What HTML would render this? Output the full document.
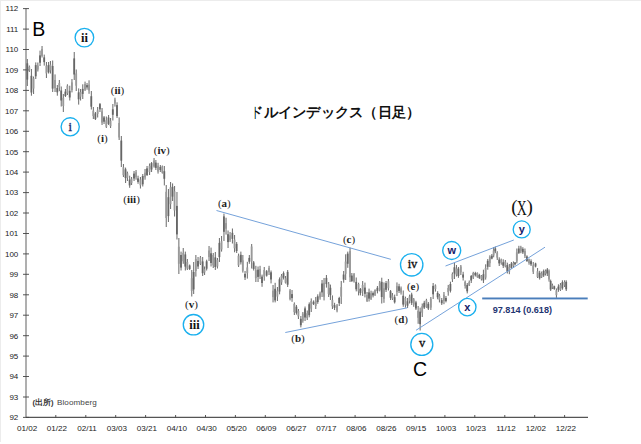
<!DOCTYPE html>
<html><head><meta charset="utf-8"><style>
html,body{margin:0;padding:0;background:#fff;}
body{width:641px;height:444px;overflow:hidden;position:relative;}
svg{position:absolute;left:0;top:0;}
.yl{font-family:"Liberation Sans",sans-serif;font-size:8px;fill:#222;text-anchor:end;}
.xl{font-family:"Liberation Sans",sans-serif;font-size:8.1px;fill:#222;text-anchor:middle;}
.cser{font-family:"Liberation Serif",serif;font-size:12.5px;}
.csans{font-family:"Liberation Sans",sans-serif;font-size:11px;font-weight:bold;}
.wl{font-family:"Liberation Serif",serif;font-size:11px;font-weight:bold;fill:#222;}
.pr{font-weight:normal;}
.big{font-family:"Liberation Sans",sans-serif;font-size:19.5px;fill:#000;}
.bigX{font-family:"Liberation Serif",serif;font-size:20.4px;fill:#111;}
.bigP{font-family:"Liberation Serif",serif;font-size:19px;fill:#111;}
.fib{font-family:"Liberation Sans",sans-serif;font-size:9.5px;font-weight:bold;fill:#1f3572;}
.title{font-family:"Liberation Serif",serif;font-size:14px;font-weight:bold;fill:#111;}
.src{font-family:"Liberation Sans",sans-serif;font-size:8.1px;fill:#444;}
</style></head><body>
<svg width="641" height="444" viewBox="0 0 641 444">
<rect x="0" y="0" width="641" height="444" fill="#fff"/>
<rect x="0" y="0" width="641" height="1" fill="#ececec"/><rect x="0" y="0" width="1" height="442" fill="#ececec"/>
<g><line x1="26" y1="8.6" x2="26" y2="417.3" stroke="#7a7a7a" stroke-width="1.2"/>
<line x1="26" y1="417.3" x2="588" y2="417.3" stroke="#555" stroke-width="1.2"/>
<line x1="23" y1="417.4" x2="29" y2="417.4" stroke="#444" stroke-width="0.9"/>
<text x="18.3" y="420.2" class="yl">92</text>
<line x1="23" y1="397.0" x2="29" y2="397.0" stroke="#444" stroke-width="0.9"/>
<text x="18.3" y="399.8" class="yl">93</text>
<line x1="23" y1="376.5" x2="29" y2="376.5" stroke="#444" stroke-width="0.9"/>
<text x="18.3" y="379.3" class="yl">94</text>
<line x1="23" y1="356.1" x2="29" y2="356.1" stroke="#444" stroke-width="0.9"/>
<text x="18.3" y="358.9" class="yl">95</text>
<line x1="23" y1="335.7" x2="29" y2="335.7" stroke="#444" stroke-width="0.9"/>
<text x="18.3" y="338.5" class="yl">96</text>
<line x1="23" y1="315.2" x2="29" y2="315.2" stroke="#444" stroke-width="0.9"/>
<text x="18.3" y="318.0" class="yl">97</text>
<line x1="23" y1="294.8" x2="29" y2="294.8" stroke="#444" stroke-width="0.9"/>
<text x="18.3" y="297.6" class="yl">98</text>
<line x1="23" y1="274.3" x2="29" y2="274.3" stroke="#444" stroke-width="0.9"/>
<text x="18.3" y="277.1" class="yl">99</text>
<line x1="23" y1="253.9" x2="29" y2="253.9" stroke="#444" stroke-width="0.9"/>
<text x="18.3" y="256.7" class="yl">100</text>
<line x1="23" y1="233.5" x2="29" y2="233.5" stroke="#444" stroke-width="0.9"/>
<text x="18.3" y="236.3" class="yl">101</text>
<line x1="23" y1="213.0" x2="29" y2="213.0" stroke="#444" stroke-width="0.9"/>
<text x="18.3" y="215.8" class="yl">102</text>
<line x1="23" y1="192.6" x2="29" y2="192.6" stroke="#444" stroke-width="0.9"/>
<text x="18.3" y="195.4" class="yl">103</text>
<line x1="23" y1="172.1" x2="29" y2="172.1" stroke="#444" stroke-width="0.9"/>
<text x="18.3" y="174.9" class="yl">104</text>
<line x1="23" y1="151.7" x2="29" y2="151.7" stroke="#444" stroke-width="0.9"/>
<text x="18.3" y="154.5" class="yl">105</text>
<line x1="23" y1="131.3" x2="29" y2="131.3" stroke="#444" stroke-width="0.9"/>
<text x="18.3" y="134.1" class="yl">106</text>
<line x1="23" y1="110.8" x2="29" y2="110.8" stroke="#444" stroke-width="0.9"/>
<text x="18.3" y="113.6" class="yl">107</text>
<line x1="23" y1="90.4" x2="29" y2="90.4" stroke="#444" stroke-width="0.9"/>
<text x="18.3" y="93.2" class="yl">108</text>
<line x1="23" y1="69.9" x2="29" y2="69.9" stroke="#444" stroke-width="0.9"/>
<text x="18.3" y="72.7" class="yl">109</text>
<line x1="23" y1="49.5" x2="29" y2="49.5" stroke="#444" stroke-width="0.9"/>
<text x="18.3" y="52.3" class="yl">110</text>
<line x1="23" y1="29.1" x2="29" y2="29.1" stroke="#444" stroke-width="0.9"/>
<text x="18.3" y="31.9" class="yl">111</text>
<line x1="23" y1="8.6" x2="29" y2="8.6" stroke="#444" stroke-width="0.9"/>
<text x="18.3" y="11.4" class="yl">112</text>
<text x="27.1" y="431.2" class="xl">01/02</text>
<line x1="55.8" y1="415" x2="55.8" y2="417.3" stroke="#444" stroke-width="0.9"/>
<text x="57.0" y="431.2" class="xl">01/22</text>
<line x1="85.8" y1="415" x2="85.8" y2="417.3" stroke="#444" stroke-width="0.9"/>
<text x="87.0" y="431.2" class="xl">02/11</text>
<line x1="115.7" y1="415" x2="115.7" y2="417.3" stroke="#444" stroke-width="0.9"/>
<text x="116.9" y="431.2" class="xl">03/03</text>
<line x1="145.6" y1="415" x2="145.6" y2="417.3" stroke="#444" stroke-width="0.9"/>
<text x="146.8" y="431.2" class="xl">03/21</text>
<line x1="175.6" y1="415" x2="175.6" y2="417.3" stroke="#444" stroke-width="0.9"/>
<text x="176.8" y="431.2" class="xl">04/10</text>
<line x1="205.5" y1="415" x2="205.5" y2="417.3" stroke="#444" stroke-width="0.9"/>
<text x="206.7" y="431.2" class="xl">04/30</text>
<line x1="235.4" y1="415" x2="235.4" y2="417.3" stroke="#444" stroke-width="0.9"/>
<text x="236.6" y="431.2" class="xl">05/20</text>
<line x1="265.3" y1="415" x2="265.3" y2="417.3" stroke="#444" stroke-width="0.9"/>
<text x="266.5" y="431.2" class="xl">06/09</text>
<line x1="295.3" y1="415" x2="295.3" y2="417.3" stroke="#444" stroke-width="0.9"/>
<text x="296.5" y="431.2" class="xl">06/27</text>
<line x1="325.2" y1="415" x2="325.2" y2="417.3" stroke="#444" stroke-width="0.9"/>
<text x="326.4" y="431.2" class="xl">07/17</text>
<line x1="355.1" y1="415" x2="355.1" y2="417.3" stroke="#444" stroke-width="0.9"/>
<text x="356.3" y="431.2" class="xl">08/06</text>
<line x1="385.1" y1="415" x2="385.1" y2="417.3" stroke="#444" stroke-width="0.9"/>
<text x="386.3" y="431.2" class="xl">08/26</text>
<line x1="415.0" y1="415" x2="415.0" y2="417.3" stroke="#444" stroke-width="0.9"/>
<text x="416.2" y="431.2" class="xl">09/15</text>
<line x1="444.9" y1="415" x2="444.9" y2="417.3" stroke="#444" stroke-width="0.9"/>
<text x="446.1" y="431.2" class="xl">10/03</text>
<line x1="474.8" y1="415" x2="474.8" y2="417.3" stroke="#444" stroke-width="0.9"/>
<text x="476.0" y="431.2" class="xl">10/23</text>
<line x1="504.8" y1="415" x2="504.8" y2="417.3" stroke="#444" stroke-width="0.9"/>
<text x="506.0" y="431.2" class="xl">11/12</text>
<line x1="534.7" y1="415" x2="534.7" y2="417.3" stroke="#444" stroke-width="0.9"/>
<text x="535.9" y="431.2" class="xl">12/02</text>
<line x1="564.6" y1="415" x2="564.6" y2="417.3" stroke="#444" stroke-width="0.9"/>
<text x="565.8" y="431.2" class="xl">12/22</text></g>
<g><rect x="26.8" y="59.0" width="1.1" height="27.0" fill="#777"/>
<rect x="26.4" y="63.3" width="1.8" height="16.3" fill="#666"/>
<rect x="28.8" y="65.5" width="1.1" height="6.5" fill="#777"/>
<rect x="28.4" y="66.8" width="1.8" height="3.6" fill="#999"/>
<rect x="30.9" y="69.0" width="1.1" height="26.7" fill="#777"/>
<rect x="30.5" y="75.8" width="1.8" height="16.7" fill="#666"/>
<rect x="33.0" y="76.5" width="1.1" height="17.5" fill="#777"/>
<rect x="32.6" y="78.3" width="1.8" height="10.3" fill="#999"/>
<rect x="35.2" y="62.4" width="1.1" height="16.6" fill="#777"/>
<rect x="34.8" y="65.1" width="1.8" height="11.2" fill="#666"/>
<rect x="37.3" y="62.5" width="1.1" height="9.0" fill="#777"/>
<rect x="36.9" y="65.6" width="1.8" height="3.9" fill="#999"/>
<rect x="39.5" y="50.6" width="1.1" height="15.4" fill="#777"/>
<rect x="39.1" y="55.4" width="1.8" height="7.3" fill="#666"/>
<rect x="41.5" y="46.0" width="1.1" height="11.5" fill="#777"/>
<rect x="41.1" y="49.0" width="1.8" height="6.9" fill="#999"/>
<rect x="43.7" y="54.6" width="1.1" height="11.0" fill="#777"/>
<rect x="43.3" y="57.4" width="1.8" height="4.7" fill="#666"/>
<rect x="45.9" y="62.0" width="1.1" height="16.0" fill="#777"/>
<rect x="45.5" y="65.7" width="1.8" height="7.7" fill="#999"/>
<rect x="48.0" y="62.0" width="1.1" height="11.5" fill="#777"/>
<rect x="47.6" y="65.1" width="1.8" height="7.1" fill="#666"/>
<rect x="49.9" y="61.0" width="1.1" height="12.5" fill="#777"/>
<rect x="49.5" y="64.6" width="1.8" height="5.8" fill="#999"/>
<rect x="52.1" y="60.5" width="1.1" height="31.5" fill="#777"/>
<rect x="51.7" y="66.0" width="1.8" height="22.6" fill="#666"/>
<rect x="54.5" y="74.4" width="1.1" height="17.6" fill="#777"/>
<rect x="54.1" y="80.0" width="1.8" height="8.2" fill="#999"/>
<rect x="56.8" y="85.0" width="1.1" height="10.7" fill="#777"/>
<rect x="56.4" y="88.0" width="1.8" height="4.3" fill="#666"/>
<rect x="58.8" y="80.0" width="1.1" height="11.2" fill="#777"/>
<rect x="58.4" y="83.1" width="1.8" height="4.4" fill="#999"/>
<rect x="60.7" y="86.5" width="1.1" height="20.0" fill="#777"/>
<rect x="60.3" y="90.5" width="1.8" height="10.0" fill="#666"/>
<rect x="62.8" y="94.0" width="1.1" height="18.0" fill="#777"/>
<rect x="62.4" y="97.8" width="1.8" height="8.2" fill="#999"/>
<rect x="64.9" y="89.0" width="1.1" height="8.0" fill="#777"/>
<rect x="64.5" y="91.6" width="1.8" height="4.4" fill="#666"/>
<rect x="66.9" y="84.3" width="1.1" height="10.7" fill="#777"/>
<rect x="66.5" y="85.7" width="1.8" height="7.6" fill="#999"/>
<rect x="69.2" y="85.7" width="1.1" height="14.8" fill="#777"/>
<rect x="68.8" y="90.8" width="1.8" height="6.7" fill="#666"/>
<rect x="71.4" y="79.0" width="1.1" height="13.4" fill="#777"/>
<rect x="71.0" y="82.4" width="1.8" height="7.6" fill="#999"/>
<rect x="73.7" y="52.0" width="1.1" height="28.0" fill="#777"/>
<rect x="73.3" y="58.4" width="1.8" height="16.1" fill="#666"/>
<rect x="75.7" y="69.5" width="1.1" height="21.5" fill="#777"/>
<rect x="75.3" y="73.5" width="1.8" height="12.2" fill="#999"/>
<rect x="78.1" y="88.4" width="1.1" height="16.2" fill="#777"/>
<rect x="77.7" y="92.4" width="1.8" height="6.9" fill="#666"/>
<rect x="80.0" y="89.0" width="1.1" height="11.5" fill="#777"/>
<rect x="79.6" y="92.1" width="1.8" height="4.6" fill="#999"/>
<rect x="82.2" y="84.3" width="1.1" height="14.7" fill="#777"/>
<rect x="81.8" y="88.9" width="1.8" height="5.0" fill="#666"/>
<rect x="84.5" y="81.6" width="1.1" height="9.4" fill="#777"/>
<rect x="84.1" y="84.1" width="1.8" height="5.6" fill="#999"/>
<rect x="86.5" y="83.0" width="1.1" height="6.7" fill="#777"/>
<rect x="86.1" y="85.1" width="1.8" height="2.3" fill="#666"/>
<rect x="88.5" y="80.3" width="1.1" height="13.5" fill="#777"/>
<rect x="88.1" y="84.7" width="1.8" height="5.8" fill="#999"/>
<rect x="90.8" y="91.0" width="1.1" height="18.5" fill="#777"/>
<rect x="90.4" y="96.2" width="1.8" height="10.5" fill="#666"/>
<rect x="92.8" y="107.0" width="1.1" height="12.0" fill="#777"/>
<rect x="92.4" y="110.7" width="1.8" height="5.4" fill="#999"/>
<rect x="94.9" y="112.0" width="1.1" height="8.0" fill="#777"/>
<rect x="94.5" y="113.4" width="1.8" height="5.7" fill="#666"/>
<rect x="97.1" y="107.0" width="1.1" height="10.5" fill="#777"/>
<rect x="96.7" y="110.3" width="1.8" height="3.6" fill="#999"/>
<rect x="99.4" y="103.0" width="1.1" height="9.0" fill="#777"/>
<rect x="99.0" y="104.1" width="1.8" height="5.2" fill="#666"/>
<rect x="101.5" y="108.0" width="1.1" height="17.0" fill="#777"/>
<rect x="101.1" y="111.4" width="1.8" height="11.2" fill="#999"/>
<rect x="103.5" y="116.0" width="1.1" height="8.0" fill="#777"/>
<rect x="103.1" y="117.4" width="1.8" height="4.3" fill="#666"/>
<rect x="105.8" y="116.5" width="1.1" height="11.5" fill="#777"/>
<rect x="105.4" y="120.2" width="1.8" height="6.6" fill="#999"/>
<rect x="108.0" y="115.0" width="1.1" height="10.0" fill="#777"/>
<rect x="107.6" y="117.5" width="1.8" height="6.4" fill="#666"/>
<rect x="110.0" y="118.0" width="1.1" height="10.0" fill="#777"/>
<rect x="109.6" y="120.8" width="1.8" height="5.4" fill="#999"/>
<rect x="112.3" y="104.0" width="1.1" height="16.5" fill="#777"/>
<rect x="111.9" y="109.3" width="1.8" height="5.5" fill="#666"/>
<rect x="114.4" y="97.7" width="1.1" height="8.9" fill="#777"/>
<rect x="114.0" y="99.7" width="1.8" height="3.8" fill="#999"/>
<rect x="116.5" y="102.3" width="1.1" height="15.7" fill="#777"/>
<rect x="116.1" y="105.1" width="1.8" height="11.0" fill="#666"/>
<rect x="118.6" y="117.4" width="1.1" height="22.6" fill="#777"/>
<rect x="118.2" y="123.0" width="1.8" height="14.5" fill="#999"/>
<rect x="120.8" y="136.0" width="1.1" height="31.0" fill="#777"/>
<rect x="120.4" y="140.6" width="1.8" height="20.1" fill="#666"/>
<rect x="122.9" y="164.0" width="1.1" height="13.0" fill="#777"/>
<rect x="122.5" y="167.3" width="1.8" height="7.9" fill="#999"/>
<rect x="125.0" y="167.6" width="1.1" height="15.4" fill="#777"/>
<rect x="124.6" y="169.3" width="1.8" height="8.8" fill="#666"/>
<rect x="126.9" y="171.6" width="1.1" height="9.4" fill="#777"/>
<rect x="126.5" y="173.3" width="1.8" height="4.5" fill="#999"/>
<rect x="129.1" y="175.7" width="1.1" height="12.1" fill="#777"/>
<rect x="128.7" y="179.6" width="1.8" height="5.8" fill="#666"/>
<rect x="131.0" y="177.0" width="1.1" height="8.0" fill="#777"/>
<rect x="130.6" y="178.7" width="1.8" height="4.4" fill="#999"/>
<rect x="133.5" y="171.0" width="1.1" height="10.0" fill="#777"/>
<rect x="133.1" y="173.6" width="1.8" height="4.9" fill="#666"/>
<rect x="135.5" y="170.0" width="1.1" height="9.7" fill="#777"/>
<rect x="135.1" y="172.3" width="1.8" height="4.9" fill="#999"/>
<rect x="137.5" y="175.7" width="1.1" height="8.1" fill="#777"/>
<rect x="137.1" y="178.4" width="1.8" height="3.5" fill="#666"/>
<rect x="139.9" y="177.0" width="1.1" height="11.5" fill="#777"/>
<rect x="139.5" y="179.4" width="1.8" height="5.9" fill="#999"/>
<rect x="142.2" y="174.0" width="1.1" height="12.5" fill="#777"/>
<rect x="141.8" y="176.0" width="1.8" height="8.3" fill="#666"/>
<rect x="144.5" y="169.0" width="1.1" height="10.7" fill="#777"/>
<rect x="144.1" y="172.7" width="1.8" height="4.6" fill="#999"/>
<rect x="146.5" y="166.0" width="1.1" height="10.0" fill="#777"/>
<rect x="146.1" y="168.4" width="1.8" height="6.6" fill="#666"/>
<rect x="149.0" y="163.5" width="1.1" height="11.5" fill="#777"/>
<rect x="148.6" y="165.8" width="1.8" height="6.3" fill="#999"/>
<rect x="151.0" y="162.0" width="1.1" height="10.0" fill="#777"/>
<rect x="150.6" y="163.1" width="1.8" height="6.4" fill="#666"/>
<rect x="153.5" y="158.0" width="1.1" height="9.6" fill="#777"/>
<rect x="153.1" y="160.5" width="1.8" height="6.0" fill="#999"/>
<rect x="155.3" y="160.0" width="1.1" height="10.0" fill="#777"/>
<rect x="154.9" y="162.6" width="1.8" height="5.3" fill="#666"/>
<rect x="157.5" y="162.8" width="1.1" height="10.8" fill="#777"/>
<rect x="157.1" y="165.7" width="1.8" height="5.9" fill="#999"/>
<rect x="159.8" y="165.0" width="1.1" height="7.0" fill="#777"/>
<rect x="159.4" y="166.9" width="1.8" height="3.1" fill="#666"/>
<rect x="161.8" y="165.5" width="1.1" height="8.1" fill="#777"/>
<rect x="161.4" y="166.4" width="1.8" height="6.3" fill="#999"/>
<rect x="163.8" y="166.0" width="1.1" height="19.4" fill="#777"/>
<rect x="163.4" y="171.2" width="1.8" height="7.6" fill="#666"/>
<rect x="165.7" y="185.0" width="1.1" height="42.0" fill="#777"/>
<rect x="165.3" y="191.8" width="1.8" height="26.2" fill="#999"/>
<rect x="167.9" y="189.0" width="1.1" height="33.0" fill="#777"/>
<rect x="167.5" y="197.2" width="1.8" height="18.9" fill="#666"/>
<rect x="170.0" y="182.0" width="1.1" height="27.0" fill="#777"/>
<rect x="169.6" y="187.2" width="1.8" height="17.0" fill="#999"/>
<rect x="172.0" y="183.4" width="1.1" height="17.6" fill="#777"/>
<rect x="171.6" y="186.8" width="1.8" height="9.8" fill="#666"/>
<rect x="174.0" y="186.0" width="1.1" height="30.5" fill="#777"/>
<rect x="173.6" y="191.3" width="1.8" height="19.2" fill="#999"/>
<rect x="176.4" y="192.0" width="1.1" height="47.5" fill="#777"/>
<rect x="176.0" y="205.9" width="1.8" height="28.5" fill="#666"/>
<rect x="178.3" y="238.0" width="1.1" height="36.0" fill="#777"/>
<rect x="177.9" y="246.7" width="1.8" height="17.1" fill="#999"/>
<rect x="180.5" y="251.6" width="1.1" height="18.9" fill="#777"/>
<rect x="180.1" y="255.0" width="1.8" height="12.6" fill="#666"/>
<rect x="182.7" y="248.0" width="1.1" height="15.8" fill="#777"/>
<rect x="182.3" y="252.8" width="1.8" height="8.5" fill="#999"/>
<rect x="184.8" y="251.6" width="1.1" height="18.9" fill="#777"/>
<rect x="184.4" y="254.4" width="1.8" height="12.2" fill="#666"/>
<rect x="186.8" y="259.0" width="1.1" height="11.0" fill="#777"/>
<rect x="186.4" y="262.0" width="1.8" height="6.6" fill="#999"/>
<rect x="189.1" y="264.5" width="1.1" height="5.5" fill="#777"/>
<rect x="188.7" y="265.5" width="1.8" height="3.5" fill="#666"/>
<rect x="191.2" y="270.0" width="1.1" height="26.5" fill="#777"/>
<rect x="190.8" y="278.2" width="1.8" height="12.8" fill="#999"/>
<rect x="193.1" y="262.0" width="1.1" height="32.0" fill="#777"/>
<rect x="192.7" y="272.0" width="1.8" height="17.4" fill="#666"/>
<rect x="195.3" y="255.0" width="1.1" height="21.6" fill="#777"/>
<rect x="194.9" y="259.0" width="1.8" height="12.0" fill="#999"/>
<rect x="197.5" y="257.0" width="1.1" height="12.0" fill="#777"/>
<rect x="197.1" y="260.9" width="1.8" height="5.6" fill="#666"/>
<rect x="199.9" y="256.0" width="1.1" height="9.0" fill="#777"/>
<rect x="199.5" y="257.4" width="1.8" height="6.4" fill="#999"/>
<rect x="202.1" y="257.0" width="1.1" height="19.0" fill="#777"/>
<rect x="201.7" y="261.4" width="1.8" height="11.8" fill="#666"/>
<rect x="204.0" y="266.5" width="1.1" height="8.5" fill="#777"/>
<rect x="203.6" y="269.1" width="1.8" height="3.3" fill="#999"/>
<rect x="206.1" y="259.7" width="1.1" height="10.8" fill="#777"/>
<rect x="205.7" y="261.3" width="1.8" height="7.4" fill="#666"/>
<rect x="208.5" y="246.0" width="1.1" height="15.0" fill="#777"/>
<rect x="208.1" y="250.5" width="1.8" height="6.6" fill="#999"/>
<rect x="210.5" y="247.6" width="1.1" height="18.9" fill="#777"/>
<rect x="210.1" y="253.3" width="1.8" height="9.7" fill="#666"/>
<rect x="212.7" y="253.0" width="1.1" height="15.0" fill="#777"/>
<rect x="212.3" y="255.0" width="1.8" height="10.4" fill="#999"/>
<rect x="214.8" y="252.0" width="1.1" height="18.0" fill="#777"/>
<rect x="214.4" y="257.4" width="1.8" height="9.6" fill="#666"/>
<rect x="216.9" y="258.0" width="1.1" height="10.5" fill="#777"/>
<rect x="216.5" y="260.0" width="1.8" height="6.4" fill="#999"/>
<rect x="218.9" y="238.0" width="1.1" height="24.0" fill="#777"/>
<rect x="218.5" y="242.9" width="1.8" height="14.2" fill="#666"/>
<rect x="221.0" y="236.0" width="1.1" height="15.6" fill="#777"/>
<rect x="220.6" y="241.2" width="1.8" height="8.3" fill="#999"/>
<rect x="223.4" y="213.6" width="1.1" height="27.4" fill="#777"/>
<rect x="223.0" y="216.4" width="1.8" height="15.4" fill="#666"/>
<rect x="225.5" y="217.7" width="1.1" height="16.9" fill="#777"/>
<rect x="225.1" y="223.1" width="1.8" height="5.6" fill="#999"/>
<rect x="227.5" y="230.5" width="1.1" height="17.5" fill="#777"/>
<rect x="227.1" y="234.2" width="1.8" height="7.9" fill="#666"/>
<rect x="229.5" y="232.0" width="1.1" height="10.0" fill="#777"/>
<rect x="229.1" y="235.3" width="1.8" height="5.1" fill="#999"/>
<rect x="231.9" y="228.5" width="1.1" height="15.0" fill="#777"/>
<rect x="231.5" y="232.8" width="1.8" height="6.1" fill="#666"/>
<rect x="234.0" y="235.0" width="1.1" height="17.3" fill="#777"/>
<rect x="233.6" y="239.6" width="1.8" height="8.7" fill="#999"/>
<rect x="236.1" y="242.0" width="1.1" height="11.0" fill="#777"/>
<rect x="235.7" y="243.9" width="1.8" height="7.1" fill="#666"/>
<rect x="238.0" y="253.6" width="1.1" height="13.4" fill="#777"/>
<rect x="237.6" y="255.7" width="1.8" height="9.7" fill="#999"/>
<rect x="240.3" y="251.6" width="1.1" height="12.9" fill="#777"/>
<rect x="239.9" y="254.8" width="1.8" height="7.5" fill="#666"/>
<rect x="242.3" y="255.0" width="1.1" height="17.6" fill="#777"/>
<rect x="241.9" y="260.3" width="1.8" height="10.3" fill="#999"/>
<rect x="244.5" y="271.0" width="1.1" height="9.0" fill="#777"/>
<rect x="244.1" y="273.9" width="1.8" height="3.6" fill="#666"/>
<rect x="246.8" y="261.8" width="1.1" height="16.8" fill="#777"/>
<rect x="246.4" y="267.4" width="1.8" height="5.8" fill="#999"/>
<rect x="248.8" y="255.0" width="1.1" height="8.8" fill="#777"/>
<rect x="248.4" y="257.9" width="1.8" height="3.8" fill="#666"/>
<rect x="251.1" y="244.0" width="1.1" height="24.5" fill="#777"/>
<rect x="250.7" y="246.5" width="1.8" height="15.0" fill="#999"/>
<rect x="253.1" y="261.0" width="1.1" height="9.5" fill="#777"/>
<rect x="252.7" y="262.4" width="1.8" height="6.5" fill="#666"/>
<rect x="255.3" y="265.8" width="1.1" height="16.2" fill="#777"/>
<rect x="254.9" y="270.1" width="1.8" height="8.1" fill="#999"/>
<rect x="257.5" y="266.5" width="1.1" height="15.5" fill="#777"/>
<rect x="257.1" y="269.7" width="1.8" height="7.2" fill="#666"/>
<rect x="259.5" y="265.8" width="1.1" height="13.2" fill="#777"/>
<rect x="259.1" y="269.1" width="1.8" height="7.4" fill="#999"/>
<rect x="261.5" y="274.6" width="1.1" height="12.2" fill="#777"/>
<rect x="261.1" y="276.6" width="1.8" height="6.4" fill="#666"/>
<rect x="263.7" y="267.0" width="1.1" height="13.7" fill="#777"/>
<rect x="263.3" y="270.0" width="1.8" height="6.6" fill="#999"/>
<rect x="266.1" y="270.0" width="1.1" height="6.6" fill="#777"/>
<rect x="265.7" y="271.2" width="1.8" height="4.4" fill="#666"/>
<rect x="268.5" y="265.8" width="1.1" height="9.2" fill="#777"/>
<rect x="268.1" y="267.9" width="1.8" height="4.3" fill="#999"/>
<rect x="270.5" y="270.5" width="1.1" height="12.9" fill="#777"/>
<rect x="270.1" y="272.3" width="1.8" height="7.2" fill="#666"/>
<rect x="272.5" y="285.0" width="1.1" height="17.4" fill="#777"/>
<rect x="272.1" y="290.7" width="1.8" height="6.4" fill="#999"/>
<rect x="274.6" y="282.8" width="1.1" height="19.6" fill="#777"/>
<rect x="274.2" y="288.8" width="1.8" height="11.6" fill="#666"/>
<rect x="276.9" y="287.0" width="1.1" height="14.0" fill="#777"/>
<rect x="276.5" y="290.6" width="1.8" height="6.0" fill="#999"/>
<rect x="279.0" y="277.4" width="1.1" height="16.9" fill="#777"/>
<rect x="278.6" y="279.3" width="1.8" height="12.2" fill="#666"/>
<rect x="281.0" y="274.0" width="1.1" height="10.9" fill="#777"/>
<rect x="280.6" y="275.8" width="1.8" height="6.6" fill="#999"/>
<rect x="283.0" y="271.4" width="1.1" height="8.1" fill="#777"/>
<rect x="282.6" y="273.1" width="1.8" height="4.7" fill="#666"/>
<rect x="285.0" y="276.0" width="1.1" height="7.5" fill="#777"/>
<rect x="284.6" y="278.2" width="1.8" height="4.5" fill="#999"/>
<rect x="287.1" y="270.0" width="1.1" height="17.0" fill="#777"/>
<rect x="286.7" y="271.9" width="1.8" height="12.8" fill="#666"/>
<rect x="289.5" y="289.0" width="1.1" height="11.4" fill="#777"/>
<rect x="289.1" y="290.5" width="1.8" height="8.6" fill="#999"/>
<rect x="291.5" y="290.0" width="1.1" height="11.8" fill="#777"/>
<rect x="291.1" y="294.1" width="1.8" height="4.0" fill="#666"/>
<rect x="293.8" y="302.4" width="1.1" height="12.6" fill="#777"/>
<rect x="293.4" y="303.9" width="1.8" height="8.2" fill="#999"/>
<rect x="295.9" y="305.0" width="1.1" height="9.6" fill="#777"/>
<rect x="295.5" y="306.7" width="1.8" height="6.2" fill="#666"/>
<rect x="297.9" y="309.0" width="1.1" height="10.0" fill="#777"/>
<rect x="297.5" y="310.9" width="1.8" height="5.5" fill="#999"/>
<rect x="300.3" y="316.0" width="1.1" height="11.4" fill="#777"/>
<rect x="299.9" y="318.8" width="1.8" height="6.4" fill="#666"/>
<rect x="302.3" y="312.0" width="1.1" height="10.7" fill="#777"/>
<rect x="301.9" y="313.6" width="1.8" height="7.2" fill="#999"/>
<rect x="304.5" y="306.5" width="1.1" height="14.5" fill="#777"/>
<rect x="304.1" y="308.4" width="1.8" height="9.1" fill="#666"/>
<rect x="306.7" y="310.5" width="1.1" height="9.5" fill="#777"/>
<rect x="306.3" y="313.2" width="1.8" height="5.0" fill="#999"/>
<rect x="308.7" y="302.4" width="1.1" height="14.9" fill="#777"/>
<rect x="308.3" y="304.2" width="1.8" height="11.0" fill="#666"/>
<rect x="310.7" y="298.4" width="1.1" height="13.6" fill="#777"/>
<rect x="310.3" y="301.0" width="1.8" height="7.6" fill="#999"/>
<rect x="313.0" y="300.4" width="1.1" height="4.6" fill="#777"/>
<rect x="312.6" y="301.8" width="1.8" height="2.3" fill="#666"/>
<rect x="315.2" y="297.0" width="1.1" height="12.0" fill="#777"/>
<rect x="314.8" y="300.6" width="1.8" height="5.3" fill="#999"/>
<rect x="317.2" y="294.3" width="1.1" height="9.5" fill="#777"/>
<rect x="316.8" y="296.3" width="1.8" height="5.7" fill="#666"/>
<rect x="319.5" y="291.6" width="1.1" height="8.1" fill="#777"/>
<rect x="319.1" y="293.4" width="1.8" height="4.1" fill="#999"/>
<rect x="321.5" y="280.0" width="1.1" height="17.0" fill="#777"/>
<rect x="321.1" y="283.5" width="1.8" height="8.9" fill="#666"/>
<rect x="323.5" y="278.0" width="1.1" height="22.4" fill="#777"/>
<rect x="323.1" y="282.8" width="1.8" height="14.0" fill="#999"/>
<rect x="325.9" y="275.0" width="1.1" height="12.6" fill="#777"/>
<rect x="325.5" y="277.9" width="1.8" height="6.2" fill="#666"/>
<rect x="328.1" y="282.0" width="1.1" height="15.0" fill="#777"/>
<rect x="327.7" y="283.8" width="1.8" height="10.1" fill="#999"/>
<rect x="329.9" y="284.6" width="1.1" height="15.4" fill="#777"/>
<rect x="329.5" y="287.8" width="1.8" height="7.3" fill="#666"/>
<rect x="331.9" y="295.4" width="1.1" height="13.6" fill="#777"/>
<rect x="331.5" y="299.9" width="1.8" height="6.4" fill="#999"/>
<rect x="334.0" y="302.8" width="1.1" height="7.2" fill="#777"/>
<rect x="333.6" y="305.1" width="1.8" height="2.7" fill="#666"/>
<rect x="336.5" y="304.0" width="1.1" height="8.3" fill="#777"/>
<rect x="336.1" y="305.4" width="1.8" height="5.1" fill="#999"/>
<rect x="338.7" y="296.8" width="1.1" height="9.2" fill="#777"/>
<rect x="338.3" y="298.0" width="1.8" height="5.2" fill="#666"/>
<rect x="340.7" y="281.0" width="1.1" height="23.0" fill="#777"/>
<rect x="340.3" y="287.1" width="1.8" height="9.5" fill="#999"/>
<rect x="343.1" y="271.0" width="1.1" height="11.7" fill="#777"/>
<rect x="342.7" y="274.5" width="1.8" height="5.1" fill="#666"/>
<rect x="345.1" y="254.3" width="1.1" height="25.7" fill="#777"/>
<rect x="344.7" y="261.6" width="1.8" height="12.2" fill="#999"/>
<rect x="347.2" y="251.6" width="1.1" height="16.2" fill="#777"/>
<rect x="346.8" y="253.6" width="1.8" height="10.2" fill="#666"/>
<rect x="349.5" y="247.6" width="1.1" height="34.4" fill="#777"/>
<rect x="349.1" y="251.1" width="1.8" height="26.2" fill="#999"/>
<rect x="351.3" y="273.0" width="1.1" height="9.0" fill="#777"/>
<rect x="350.9" y="275.6" width="1.8" height="5.4" fill="#666"/>
<rect x="353.5" y="273.0" width="1.1" height="9.6" fill="#777"/>
<rect x="353.1" y="274.2" width="1.8" height="7.2" fill="#999"/>
<rect x="355.7" y="277.5" width="1.1" height="13.9" fill="#777"/>
<rect x="355.3" y="281.9" width="1.8" height="7.4" fill="#666"/>
<rect x="358.0" y="282.7" width="1.1" height="12.7" fill="#777"/>
<rect x="357.6" y="284.0" width="1.8" height="7.4" fill="#999"/>
<rect x="359.9" y="288.0" width="1.1" height="7.4" fill="#777"/>
<rect x="359.5" y="289.0" width="1.8" height="4.1" fill="#666"/>
<rect x="362.1" y="281.0" width="1.1" height="15.0" fill="#777"/>
<rect x="361.7" y="285.0" width="1.8" height="6.3" fill="#999"/>
<rect x="364.4" y="282.6" width="1.1" height="14.8" fill="#777"/>
<rect x="364.0" y="287.6" width="1.8" height="6.2" fill="#666"/>
<rect x="366.5" y="292.0" width="1.1" height="10.0" fill="#777"/>
<rect x="366.1" y="295.0" width="1.8" height="5.9" fill="#999"/>
<rect x="368.5" y="288.6" width="1.1" height="12.9" fill="#777"/>
<rect x="368.1" y="292.4" width="1.8" height="6.2" fill="#666"/>
<rect x="370.5" y="290.7" width="1.1" height="9.3" fill="#777"/>
<rect x="370.1" y="293.3" width="1.8" height="5.5" fill="#999"/>
<rect x="372.5" y="291.4" width="1.1" height="6.0" fill="#777"/>
<rect x="372.1" y="293.1" width="1.8" height="2.3" fill="#666"/>
<rect x="374.5" y="289.3" width="1.1" height="6.7" fill="#777"/>
<rect x="374.1" y="290.1" width="1.8" height="4.7" fill="#999"/>
<rect x="376.9" y="286.0" width="1.1" height="7.4" fill="#777"/>
<rect x="376.5" y="287.8" width="1.8" height="3.3" fill="#666"/>
<rect x="379.2" y="281.0" width="1.1" height="10.4" fill="#777"/>
<rect x="378.8" y="282.7" width="1.8" height="7.2" fill="#999"/>
<rect x="381.2" y="277.7" width="1.1" height="25.8" fill="#777"/>
<rect x="380.8" y="281.9" width="1.8" height="15.1" fill="#666"/>
<rect x="383.4" y="282.4" width="1.1" height="20.4" fill="#777"/>
<rect x="383.0" y="288.3" width="1.8" height="10.5" fill="#999"/>
<rect x="385.5" y="281.0" width="1.1" height="11.0" fill="#777"/>
<rect x="385.1" y="283.1" width="1.8" height="6.7" fill="#666"/>
<rect x="387.9" y="279.0" width="1.1" height="11.5" fill="#777"/>
<rect x="387.5" y="281.2" width="1.8" height="7.0" fill="#999"/>
<rect x="390.0" y="290.0" width="1.1" height="10.0" fill="#777"/>
<rect x="389.6" y="291.2" width="1.8" height="6.5" fill="#666"/>
<rect x="391.9" y="293.0" width="1.1" height="7.0" fill="#777"/>
<rect x="391.5" y="295.4" width="1.8" height="3.2" fill="#999"/>
<rect x="394.1" y="294.6" width="1.1" height="8.9" fill="#777"/>
<rect x="393.7" y="297.2" width="1.8" height="5.1" fill="#666"/>
<rect x="396.4" y="282.4" width="1.1" height="13.6" fill="#777"/>
<rect x="396.0" y="286.1" width="1.8" height="6.0" fill="#999"/>
<rect x="398.5" y="283.8" width="1.1" height="9.2" fill="#777"/>
<rect x="398.1" y="286.3" width="1.8" height="4.6" fill="#666"/>
<rect x="400.5" y="286.5" width="1.1" height="8.1" fill="#777"/>
<rect x="400.1" y="288.3" width="1.8" height="4.2" fill="#999"/>
<rect x="402.7" y="290.5" width="1.1" height="16.3" fill="#777"/>
<rect x="402.3" y="295.8" width="1.8" height="8.8" fill="#666"/>
<rect x="404.9" y="296.6" width="1.1" height="11.0" fill="#777"/>
<rect x="404.5" y="298.0" width="1.8" height="6.5" fill="#999"/>
<rect x="407.0" y="298.0" width="1.1" height="10.0" fill="#777"/>
<rect x="406.6" y="301.3" width="1.8" height="4.4" fill="#666"/>
<rect x="409.0" y="294.6" width="1.1" height="8.9" fill="#777"/>
<rect x="408.6" y="296.5" width="1.8" height="4.5" fill="#999"/>
<rect x="411.1" y="292.7" width="1.1" height="12.3" fill="#777"/>
<rect x="410.7" y="294.5" width="1.8" height="8.4" fill="#666"/>
<rect x="413.2" y="298.0" width="1.1" height="8.8" fill="#777"/>
<rect x="412.8" y="299.3" width="1.8" height="5.3" fill="#999"/>
<rect x="415.4" y="300.8" width="1.1" height="9.2" fill="#777"/>
<rect x="415.0" y="302.4" width="1.8" height="6.1" fill="#666"/>
<rect x="417.6" y="306.0" width="1.1" height="17.8" fill="#777"/>
<rect x="417.2" y="310.9" width="1.8" height="6.9" fill="#999"/>
<rect x="419.6" y="307.6" width="1.1" height="22.9" fill="#777"/>
<rect x="419.2" y="311.6" width="1.8" height="12.6" fill="#666"/>
<rect x="421.7" y="303.5" width="1.1" height="13.5" fill="#777"/>
<rect x="421.3" y="306.2" width="1.8" height="6.5" fill="#999"/>
<rect x="423.7" y="300.8" width="1.1" height="8.2" fill="#777"/>
<rect x="423.3" y="302.8" width="1.8" height="4.8" fill="#666"/>
<rect x="425.9" y="298.8" width="1.1" height="9.0" fill="#777"/>
<rect x="425.5" y="300.2" width="1.8" height="6.7" fill="#999"/>
<rect x="427.8" y="302.0" width="1.1" height="8.0" fill="#777"/>
<rect x="427.4" y="303.8" width="1.8" height="4.7" fill="#666"/>
<rect x="430.3" y="297.0" width="1.1" height="13.0" fill="#777"/>
<rect x="429.9" y="298.9" width="1.8" height="8.7" fill="#999"/>
<rect x="432.6" y="283.0" width="1.1" height="16.0" fill="#777"/>
<rect x="432.2" y="285.9" width="1.8" height="8.4" fill="#666"/>
<rect x="434.9" y="284.4" width="1.1" height="7.2" fill="#777"/>
<rect x="434.5" y="285.4" width="1.8" height="3.7" fill="#999"/>
<rect x="437.1" y="291.2" width="1.1" height="8.1" fill="#777"/>
<rect x="436.7" y="293.0" width="1.8" height="4.3" fill="#666"/>
<rect x="438.9" y="293.9" width="1.1" height="8.5" fill="#777"/>
<rect x="438.5" y="295.7" width="1.8" height="4.0" fill="#999"/>
<rect x="441.2" y="298.0" width="1.1" height="7.0" fill="#777"/>
<rect x="440.8" y="300.1" width="1.8" height="3.2" fill="#666"/>
<rect x="443.4" y="292.0" width="1.1" height="12.2" fill="#777"/>
<rect x="443.0" y="294.7" width="1.8" height="6.1" fill="#999"/>
<rect x="445.4" y="296.0" width="1.1" height="6.4" fill="#777"/>
<rect x="445.0" y="298.0" width="1.8" height="3.1" fill="#666"/>
<rect x="447.7" y="284.9" width="1.1" height="10.8" fill="#777"/>
<rect x="447.3" y="288.0" width="1.8" height="4.1" fill="#999"/>
<rect x="449.9" y="281.7" width="1.1" height="10.8" fill="#777"/>
<rect x="449.5" y="284.0" width="1.8" height="6.8" fill="#666"/>
<rect x="451.9" y="272.4" width="1.1" height="9.6" fill="#777"/>
<rect x="451.5" y="273.9" width="1.8" height="5.4" fill="#999"/>
<rect x="453.9" y="263.0" width="1.1" height="16.0" fill="#777"/>
<rect x="453.5" y="267.3" width="1.8" height="6.3" fill="#666"/>
<rect x="455.9" y="265.0" width="1.1" height="11.5" fill="#777"/>
<rect x="455.5" y="268.6" width="1.8" height="6.0" fill="#999"/>
<rect x="457.9" y="267.0" width="1.1" height="10.8" fill="#777"/>
<rect x="457.5" y="268.6" width="1.8" height="7.4" fill="#666"/>
<rect x="460.3" y="265.0" width="1.1" height="10.0" fill="#777"/>
<rect x="459.9" y="266.5" width="1.8" height="5.8" fill="#999"/>
<rect x="462.6" y="271.8" width="1.1" height="8.7" fill="#777"/>
<rect x="462.2" y="274.5" width="1.8" height="3.1" fill="#666"/>
<rect x="464.6" y="280.5" width="1.1" height="8.1" fill="#777"/>
<rect x="464.2" y="281.8" width="1.8" height="4.2" fill="#999"/>
<rect x="466.7" y="283.0" width="1.1" height="10.4" fill="#777"/>
<rect x="466.3" y="284.9" width="1.8" height="6.4" fill="#666"/>
<rect x="468.7" y="280.5" width="1.1" height="5.5" fill="#777"/>
<rect x="468.3" y="282.1" width="1.8" height="3.3" fill="#999"/>
<rect x="470.7" y="275.0" width="1.1" height="8.0" fill="#777"/>
<rect x="470.3" y="276.0" width="1.8" height="4.5" fill="#666"/>
<rect x="472.7" y="271.8" width="1.1" height="7.2" fill="#777"/>
<rect x="472.3" y="273.0" width="1.8" height="4.6" fill="#999"/>
<rect x="474.8" y="271.8" width="1.1" height="4.7" fill="#777"/>
<rect x="474.4" y="273.0" width="1.8" height="2.3" fill="#666"/>
<rect x="476.8" y="272.4" width="1.1" height="5.4" fill="#777"/>
<rect x="476.4" y="272.9" width="1.8" height="3.9" fill="#999"/>
<rect x="478.8" y="273.8" width="1.1" height="5.2" fill="#777"/>
<rect x="478.4" y="274.9" width="1.8" height="3.0" fill="#666"/>
<rect x="480.9" y="275.0" width="1.1" height="5.5" fill="#777"/>
<rect x="480.5" y="275.8" width="1.8" height="3.3" fill="#999"/>
<rect x="482.9" y="269.7" width="1.1" height="13.3" fill="#777"/>
<rect x="482.5" y="274.2" width="1.8" height="6.2" fill="#666"/>
<rect x="485.1" y="264.3" width="1.1" height="15.3" fill="#777"/>
<rect x="484.7" y="267.9" width="1.8" height="9.7" fill="#999"/>
<rect x="487.2" y="259.0" width="1.1" height="10.7" fill="#777"/>
<rect x="486.8" y="260.8" width="1.8" height="6.0" fill="#666"/>
<rect x="489.3" y="255.3" width="1.1" height="11.7" fill="#777"/>
<rect x="488.9" y="256.8" width="1.8" height="6.4" fill="#999"/>
<rect x="491.3" y="254.0" width="1.1" height="5.3" fill="#777"/>
<rect x="490.9" y="255.7" width="1.8" height="2.9" fill="#666"/>
<rect x="493.1" y="247.0" width="1.1" height="10.3" fill="#777"/>
<rect x="492.7" y="250.5" width="1.8" height="4.9" fill="#999"/>
<rect x="494.8" y="246.5" width="1.1" height="6.7" fill="#777"/>
<rect x="494.4" y="248.5" width="1.8" height="2.8" fill="#666"/>
<rect x="496.7" y="251.2" width="1.1" height="8.8" fill="#777"/>
<rect x="496.3" y="252.7" width="1.8" height="4.9" fill="#999"/>
<rect x="498.7" y="257.3" width="1.1" height="8.7" fill="#777"/>
<rect x="498.3" y="259.6" width="1.8" height="3.8" fill="#666"/>
<rect x="500.7" y="258.6" width="1.1" height="6.1" fill="#777"/>
<rect x="500.3" y="259.6" width="1.8" height="3.3" fill="#999"/>
<rect x="502.7" y="259.3" width="1.1" height="8.7" fill="#777"/>
<rect x="502.3" y="262.3" width="1.8" height="3.4" fill="#666"/>
<rect x="504.8" y="260.0" width="1.1" height="7.4" fill="#777"/>
<rect x="504.4" y="261.7" width="1.8" height="4.7" fill="#999"/>
<rect x="506.8" y="262.7" width="1.1" height="10.8" fill="#777"/>
<rect x="506.4" y="265.1" width="1.8" height="6.4" fill="#666"/>
<rect x="508.8" y="264.0" width="1.1" height="10.2" fill="#777"/>
<rect x="508.4" y="266.9" width="1.8" height="4.6" fill="#999"/>
<rect x="510.9" y="262.0" width="1.1" height="6.8" fill="#777"/>
<rect x="510.5" y="263.6" width="1.8" height="4.2" fill="#666"/>
<rect x="512.9" y="261.4" width="1.1" height="6.0" fill="#777"/>
<rect x="512.5" y="263.0" width="1.8" height="2.9" fill="#999"/>
<rect x="514.5" y="262.0" width="1.1" height="3.4" fill="#777"/>
<rect x="514.1" y="262.5" width="1.8" height="1.8" fill="#666"/>
<rect x="516.3" y="248.5" width="1.1" height="14.9" fill="#777"/>
<rect x="515.9" y="252.4" width="1.8" height="9.0" fill="#999"/>
<rect x="518.3" y="245.8" width="1.1" height="8.2" fill="#777"/>
<rect x="517.9" y="248.5" width="1.8" height="4.4" fill="#666"/>
<rect x="520.3" y="245.8" width="1.1" height="7.4" fill="#777"/>
<rect x="519.9" y="247.2" width="1.8" height="4.0" fill="#999"/>
<rect x="522.3" y="247.2" width="1.1" height="6.8" fill="#777"/>
<rect x="521.9" y="248.9" width="1.8" height="3.5" fill="#666"/>
<rect x="524.4" y="248.5" width="1.1" height="9.5" fill="#777"/>
<rect x="524.0" y="251.0" width="1.8" height="5.0" fill="#999"/>
<rect x="526.4" y="255.3" width="1.1" height="6.7" fill="#777"/>
<rect x="526.0" y="256.5" width="1.8" height="4.5" fill="#666"/>
<rect x="528.5" y="258.6" width="1.1" height="6.1" fill="#777"/>
<rect x="528.1" y="259.3" width="1.8" height="3.7" fill="#999"/>
<rect x="530.5" y="259.3" width="1.1" height="6.7" fill="#777"/>
<rect x="530.1" y="261.2" width="1.8" height="3.2" fill="#666"/>
<rect x="532.7" y="262.0" width="1.1" height="12.0" fill="#777"/>
<rect x="532.3" y="265.4" width="1.8" height="6.3" fill="#999"/>
<rect x="535.0" y="262.7" width="1.1" height="4.7" fill="#777"/>
<rect x="534.6" y="263.5" width="1.8" height="3.0" fill="#666"/>
<rect x="537.0" y="268.0" width="1.1" height="10.0" fill="#777"/>
<rect x="536.6" y="271.2" width="1.8" height="5.7" fill="#999"/>
<rect x="539.1" y="270.8" width="1.1" height="8.8" fill="#777"/>
<rect x="538.7" y="272.8" width="1.8" height="5.4" fill="#666"/>
<rect x="541.1" y="271.5" width="1.1" height="6.5" fill="#777"/>
<rect x="540.7" y="273.4" width="1.8" height="3.4" fill="#999"/>
<rect x="543.1" y="269.5" width="1.1" height="7.5" fill="#777"/>
<rect x="542.7" y="270.9" width="1.8" height="4.6" fill="#666"/>
<rect x="545.0" y="269.5" width="1.1" height="6.0" fill="#777"/>
<rect x="544.6" y="270.9" width="1.8" height="2.8" fill="#999"/>
<rect x="546.8" y="268.0" width="1.1" height="8.0" fill="#777"/>
<rect x="546.4" y="269.5" width="1.8" height="4.0" fill="#666"/>
<rect x="548.5" y="269.5" width="1.1" height="12.1" fill="#777"/>
<rect x="548.1" y="271.0" width="1.8" height="8.5" fill="#999"/>
<rect x="550.1" y="279.6" width="1.1" height="11.4" fill="#777"/>
<rect x="549.7" y="281.0" width="1.8" height="8.5" fill="#666"/>
<rect x="551.9" y="283.6" width="1.1" height="5.4" fill="#777"/>
<rect x="551.5" y="285.2" width="1.8" height="2.3" fill="#999"/>
<rect x="553.8" y="285.7" width="1.1" height="4.0" fill="#777"/>
<rect x="553.4" y="286.3" width="1.8" height="2.8" fill="#666"/>
<rect x="555.9" y="288.4" width="1.1" height="9.4" fill="#777"/>
<rect x="555.5" y="290.3" width="1.8" height="4.8" fill="#999"/>
<rect x="557.9" y="284.3" width="1.1" height="7.5" fill="#777"/>
<rect x="557.5" y="286.6" width="1.8" height="3.1" fill="#666"/>
<rect x="559.9" y="283.0" width="1.1" height="8.0" fill="#777"/>
<rect x="559.5" y="285.0" width="1.8" height="4.9" fill="#999"/>
<rect x="561.9" y="280.3" width="1.1" height="9.4" fill="#777"/>
<rect x="561.5" y="282.2" width="1.8" height="6.1" fill="#666"/>
<rect x="564.0" y="280.3" width="1.1" height="6.7" fill="#777"/>
<rect x="563.6" y="281.9" width="1.8" height="3.5" fill="#999"/>
<rect x="565.7" y="280.3" width="1.1" height="10.7" fill="#777"/>
<rect x="565.3" y="281.9" width="1.8" height="7.4" fill="#666"/></g>
<g><line x1="216.5" y1="210.5" x2="390.8" y2="259.3" stroke="#6e9dd8" stroke-width="0.95"/>
<line x1="285.3" y1="332.5" x2="407.3" y2="307.8" stroke="#6e9dd8" stroke-width="0.95"/>
<line x1="445.5" y1="266" x2="513.8" y2="240" stroke="#6e9dd8" stroke-width="0.95"/>
<line x1="416" y1="330.3" x2="545" y2="247.2" stroke="#6e9dd8" stroke-width="0.95"/>
<rect x="482.2" y="297.5" width="105.5" height="1.9" fill="#4a7ebb"/></g>
<g><circle cx="84.4" cy="37.6" r="9.3" fill="none" stroke="#1ab0ee" stroke-width="1.35"/>
<text x="84.4" y="41.9" class="cser" fill="#111" font-weight="bold" text-anchor="middle">ii</text>
<circle cx="70.2" cy="126.8" r="9.1" fill="none" stroke="#1ab0ee" stroke-width="1.35"/>
<text x="70.2" y="131.0" class="cser" fill="#1a2a6c" font-weight="normal" text-anchor="middle" stroke="#1a2a6c" stroke-width="0.35">i</text>
<circle cx="193.5" cy="324.7" r="10.2" fill="none" stroke="#1ab0ee" stroke-width="1.35"/>
<text x="194.5" y="329.0" class="cser" fill="#111" font-weight="bold" text-anchor="middle">iii</text>
<circle cx="411.7" cy="264.8" r="11.2" fill="none" stroke="#1ab0ee" stroke-width="1.35"/>
<text x="412.5" y="268.40000000000003" class="cser" fill="#111" font-weight="normal" text-anchor="middle" stroke="#111" stroke-width="0.35">iv</text>
<circle cx="421.8" cy="344.4" r="11" fill="none" stroke="#1ab0ee" stroke-width="1.35"/>
<text x="422.0" y="347.2" class="cser" fill="#111" font-weight="normal" text-anchor="middle" stroke="#111" stroke-width="0.35">v</text>
<circle cx="451.7" cy="250.5" r="9" fill="none" stroke="#1ab0ee" stroke-width="1.35"/>
<text x="451.7" y="254.4" class="csans" fill="#14206a" font-weight="bold" text-anchor="middle">w</text>
<circle cx="467.3" cy="307.1" r="8.7" fill="none" stroke="#1ab0ee" stroke-width="1.35"/>
<text x="467.3" y="310.70000000000005" class="csans" fill="#14206a" font-weight="bold" text-anchor="middle">x</text>
<circle cx="521.7" cy="229.4" r="8.5" fill="none" stroke="#1ab0ee" stroke-width="1.35"/>
<text x="521.7" y="232.70000000000002" class="csans" fill="#14206a" font-weight="bold" text-anchor="middle">y</text>
<text x="102.5" y="141.8" class="wl" text-anchor="middle"><tspan class="pr">(</tspan>i<tspan class="pr">)</tspan></text>
<text x="117.5" y="94.3" class="wl" text-anchor="middle"><tspan class="pr">(</tspan>ii<tspan class="pr">)</tspan></text>
<text x="131.6" y="202.8" class="wl" text-anchor="middle"><tspan class="pr">(</tspan>iii<tspan class="pr">)</tspan></text>
<text x="161.7" y="153.6" class="wl" text-anchor="middle"><tspan class="pr">(</tspan>iv<tspan class="pr">)</tspan></text>
<text x="191.5" y="308" class="wl" text-anchor="middle"><tspan class="pr">(</tspan>v<tspan class="pr">)</tspan></text>
<text x="224.3" y="206.5" class="wl" text-anchor="middle"><tspan class="pr">(</tspan>a<tspan class="pr">)</tspan></text>
<text x="298" y="342.3" class="wl" text-anchor="middle"><tspan class="pr">(</tspan>b<tspan class="pr">)</tspan></text>
<text x="349" y="242.5" class="wl" text-anchor="middle"><tspan class="pr">(</tspan>c<tspan class="pr">)</tspan></text>
<text x="401.2" y="322.5" class="wl" text-anchor="middle"><tspan class="pr">(</tspan>d<tspan class="pr">)</tspan></text>
<text x="413" y="289.6" class="wl" text-anchor="middle"><tspan class="pr">(</tspan>e<tspan class="pr">)</tspan></text>
<text x="32.2" y="36.2" class="big">B</text>
<text x="413" y="375.6" class="big">C</text>
<text x="511.3" y="213" class="bigP">(</text><text x="526.4" y="213" class="bigP">)</text>
<text transform="translate(521.7,214.7) scale(0.68,1)" x="0" y="0" class="bigX" text-anchor="middle">X</text>
<text x="492.7" y="313.4" class="fib" textLength="59.3" lengthAdjust="spacingAndGlyphs">97.814 (0.618)</text>
<text x="249.5" y="117" class="title" lang="ja" textLength="171" lengthAdjust="spacingAndGlyphs">ドルインデックス（日足）</text>
<text x="32.5" y="405.2" class="src"><tspan font-weight="bold" fill="#333" font-size="7.6px">(出所)</tspan> <tspan dx="1.2" letter-spacing="0.08">Bloomberg</tspan></text></g>
</svg>
</body></html>
